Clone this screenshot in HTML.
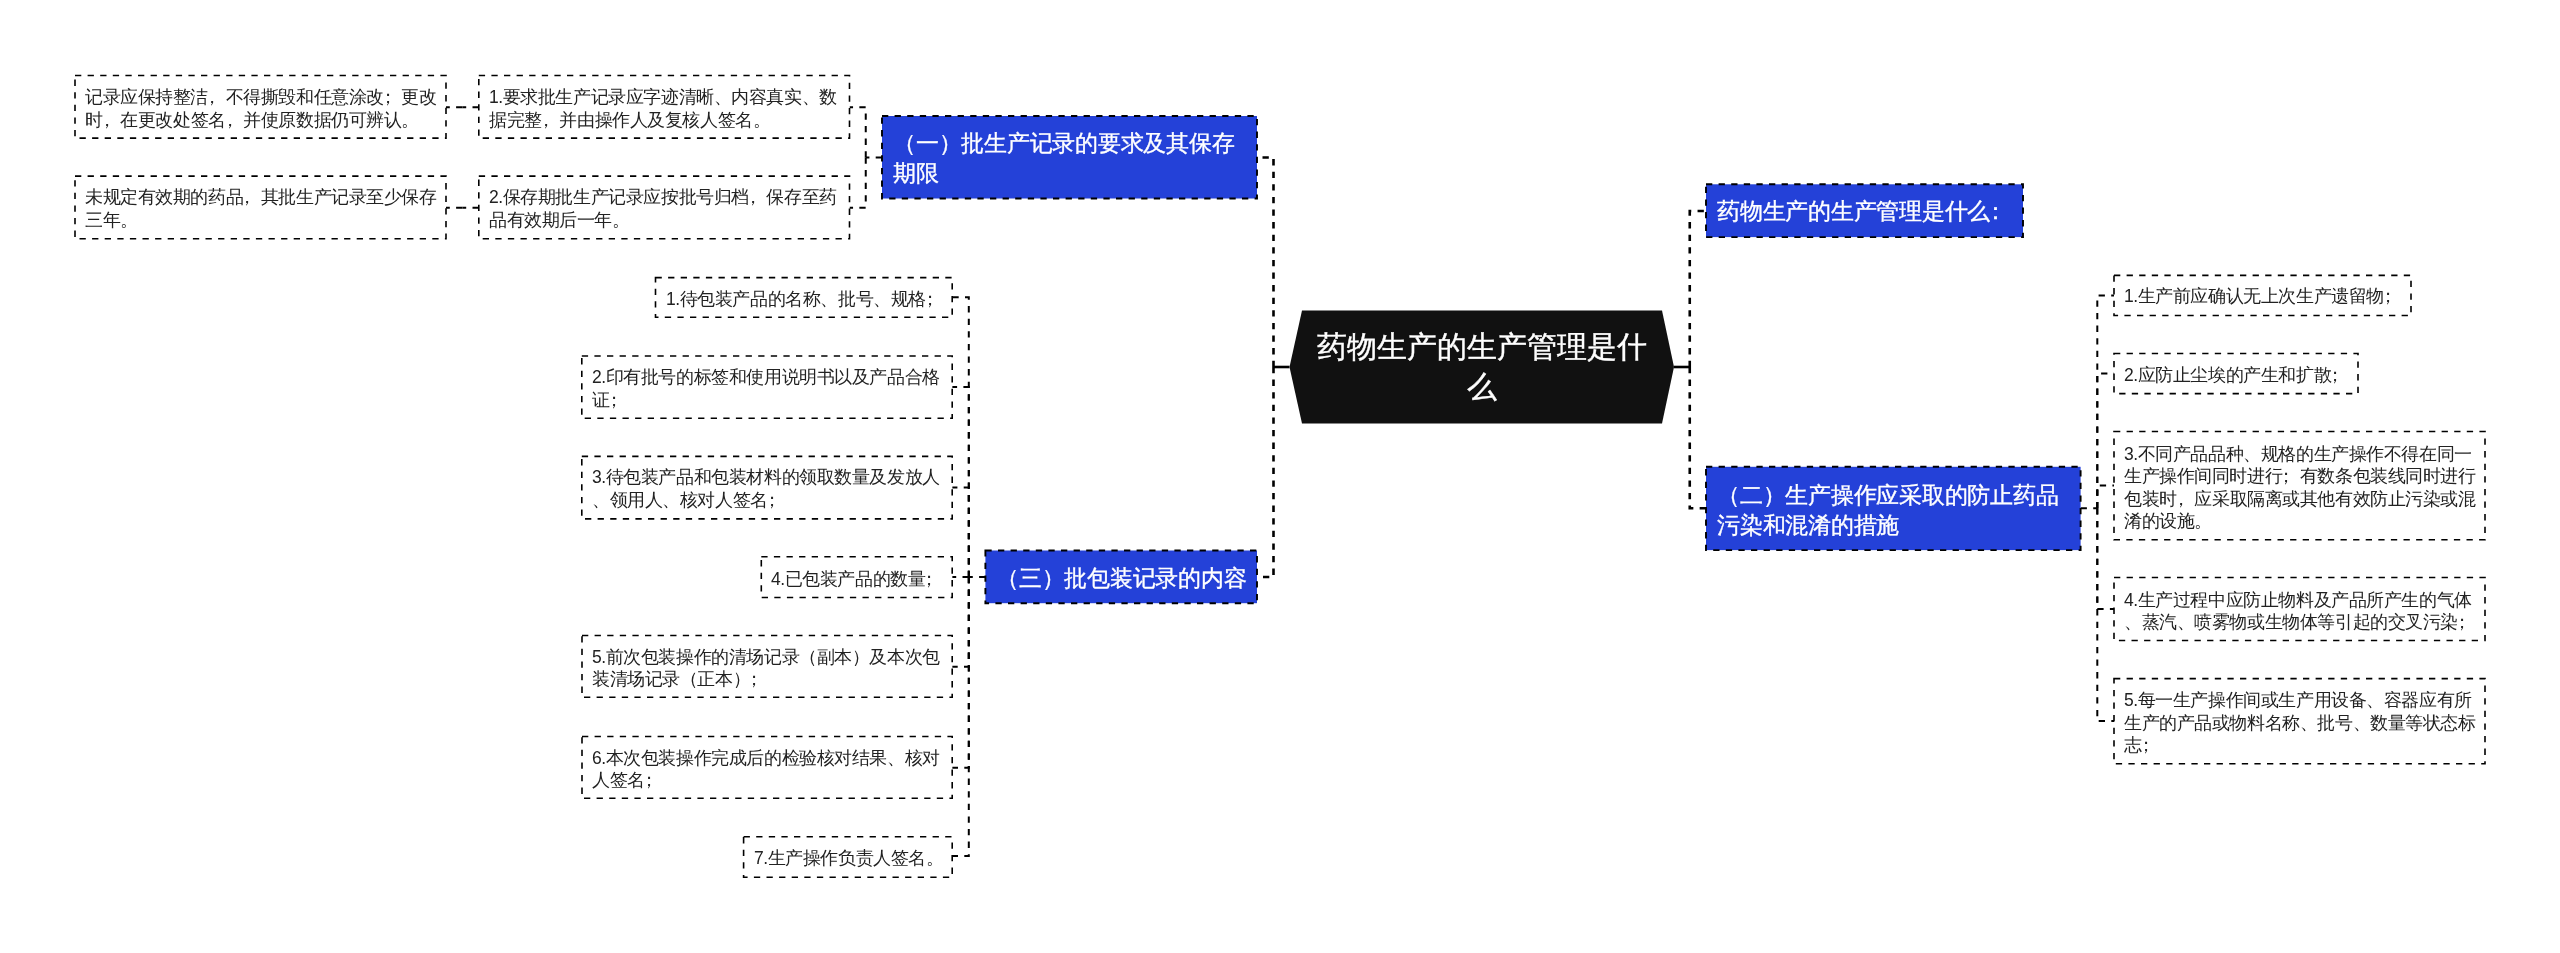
<!DOCTYPE html>
<html><head><meta charset="utf-8"><style>
html,body{margin:0;padding:0;background:#fff;width:2560px;height:953px;overflow:hidden}
body{position:relative;font-family:"Liberation Sans",sans-serif}
svg{position:absolute;left:0;top:0}
.lf,.bl,.rt{position:absolute;will-change:transform;display:flex;flex-direction:column;justify-content:center;box-sizing:border-box;white-space:nowrap}
.lf{font-size:17.5px;line-height:22.5px;letter-spacing:-0.42px;color:#222;padding-left:10px;padding-top:3px}
.bl{font-size:22.5px;line-height:30px;letter-spacing:-0.25px;color:#fff;padding-left:11px;padding-top:4px;-webkit-text-stroke:0.35px #fff}
.pc{position:relative;left:-5px}
.pc2{position:relative;left:-6px}
.rt{font-size:30px;line-height:40px;color:#fff;text-align:center;align-items:center;padding-bottom:2px;-webkit-text-stroke:0.4px #fff}
</style></head><body>
<svg width="2560" height="953" viewBox="0 0 2560 953">
<path d="M1289.5 367H1273.5" fill="none" stroke="#000" stroke-width="2.6"/>
<path d="M1674 367H1689.75" fill="none" stroke="#000" stroke-width="2.6"/>
<path d="M1273.5 367V157.5H1257" fill="none" stroke="#000" stroke-width="2.6" stroke-dasharray="6.3 6.3"/>
<path d="M1273.5 367V577H1257" fill="none" stroke="#000" stroke-width="2.6" stroke-dasharray="6.3 6.3"/>
<path d="M1689.75 367V211H1706" fill="none" stroke="#000" stroke-width="2.6" stroke-dasharray="6.3 6.3"/>
<path d="M1689.75 367V508.3H1706" fill="none" stroke="#000" stroke-width="2.6" stroke-dasharray="6.3 6.3"/>
<path d="M882 157.5H865.75" fill="none" stroke="#000" stroke-width="2.0" stroke-dasharray="6.3 6.3"/>
<path d="M865.75 157.5V107.2H849.5" fill="none" stroke="#000" stroke-width="2.0" stroke-dasharray="6.3 6.3"/>
<path d="M865.75 157.5V207.8H849.5" fill="none" stroke="#000" stroke-width="2.0" stroke-dasharray="6.3 6.3"/>
<path d="M478.8 107.2H462.4" fill="none" stroke="#000" stroke-width="2.0" stroke-dasharray="6.3 6.3"/>
<path d="M462.4 107.2H446" fill="none" stroke="#000" stroke-width="2.0" stroke-dasharray="6.3 6.3"/>
<path d="M478.8 207.8H462.4" fill="none" stroke="#000" stroke-width="2.0" stroke-dasharray="6.3 6.3"/>
<path d="M462.4 207.8H446" fill="none" stroke="#000" stroke-width="2.0" stroke-dasharray="6.3 6.3"/>
<path d="M985.4 577H968.8" fill="none" stroke="#000" stroke-width="2.0" stroke-dasharray="6.3 6.3"/>
<path d="M968.8 577V297.3H952.2" fill="none" stroke="#000" stroke-width="2.0" stroke-dasharray="6.3 6.3"/>
<path d="M968.8 577V387.1H952.2" fill="none" stroke="#000" stroke-width="2.0" stroke-dasharray="6.3 6.3"/>
<path d="M968.8 577V487.6H952.2" fill="none" stroke="#000" stroke-width="2.0" stroke-dasharray="6.3 6.3"/>
<path d="M968.8 577V577H952.2" fill="none" stroke="#000" stroke-width="2.0" stroke-dasharray="6.3 6.3"/>
<path d="M968.8 577V666.7H952.2" fill="none" stroke="#000" stroke-width="2.0" stroke-dasharray="6.3 6.3"/>
<path d="M968.8 577V767.8H952.2" fill="none" stroke="#000" stroke-width="2.0" stroke-dasharray="6.3 6.3"/>
<path d="M968.8 577V856H952.2" fill="none" stroke="#000" stroke-width="2.0" stroke-dasharray="6.3 6.3"/>
<path d="M2080.6 508.3H2097.3" fill="none" stroke="#000" stroke-width="2.0" stroke-dasharray="6.3 6.3"/>
<path d="M2097.3 508.3V295.4H2114" fill="none" stroke="#000" stroke-width="2.0" stroke-dasharray="6.3 6.3"/>
<path d="M2097.3 508.3V373.5H2114" fill="none" stroke="#000" stroke-width="2.0" stroke-dasharray="6.3 6.3"/>
<path d="M2097.3 508.3V485.6H2114" fill="none" stroke="#000" stroke-width="2.0" stroke-dasharray="6.3 6.3"/>
<path d="M2097.3 508.3V609.1H2114" fill="none" stroke="#000" stroke-width="2.0" stroke-dasharray="6.3 6.3"/>
<path d="M2097.3 508.3V721.1H2114" fill="none" stroke="#000" stroke-width="2.0" stroke-dasharray="6.3 6.3"/>
<rect x="75" y="75.5" width="371.00" height="62.60" fill="#fff" stroke="#000" stroke-width="1.6" stroke-dasharray="6.3 6.3"/>
<rect x="75" y="176.1" width="371.00" height="62.60" fill="#fff" stroke="#000" stroke-width="1.6" stroke-dasharray="6.3 6.3"/>
<rect x="478.8" y="75.5" width="370.70" height="62.60" fill="#fff" stroke="#000" stroke-width="1.6" stroke-dasharray="6.3 6.3"/>
<rect x="478.8" y="176.1" width="370.70" height="62.60" fill="#fff" stroke="#000" stroke-width="1.6" stroke-dasharray="6.3 6.3"/>
<rect x="655.5" y="277.6" width="296.70" height="39.60" fill="#fff" stroke="#000" stroke-width="1.6" stroke-dasharray="6.3 6.3"/>
<rect x="581.8" y="356" width="370.40" height="62.20" fill="#fff" stroke="#000" stroke-width="1.6" stroke-dasharray="6.3 6.3"/>
<rect x="581.8" y="456.4" width="370.40" height="62.50" fill="#fff" stroke="#000" stroke-width="1.6" stroke-dasharray="6.3 6.3"/>
<rect x="761.3" y="556.8" width="190.90" height="40.70" fill="#fff" stroke="#000" stroke-width="1.6" stroke-dasharray="6.3 6.3"/>
<rect x="582" y="635.5" width="370.20" height="61.70" fill="#fff" stroke="#000" stroke-width="1.6" stroke-dasharray="6.3 6.3"/>
<rect x="582" y="736.5" width="370.20" height="61.70" fill="#fff" stroke="#000" stroke-width="1.6" stroke-dasharray="6.3 6.3"/>
<rect x="743.6" y="836.8" width="208.60" height="40.40" fill="#fff" stroke="#000" stroke-width="1.6" stroke-dasharray="6.3 6.3"/>
<rect x="2114" y="275.4" width="297.00" height="40.10" fill="#fff" stroke="#000" stroke-width="1.6" stroke-dasharray="6.3 6.3"/>
<rect x="2114" y="353.5" width="244.00" height="40.10" fill="#fff" stroke="#000" stroke-width="1.6" stroke-dasharray="6.3 6.3"/>
<rect x="2114" y="431.5" width="371.00" height="108.20" fill="#fff" stroke="#000" stroke-width="1.6" stroke-dasharray="6.3 6.3"/>
<rect x="2114" y="577.5" width="371.00" height="63.00" fill="#fff" stroke="#000" stroke-width="1.6" stroke-dasharray="6.3 6.3"/>
<rect x="2114" y="678.6" width="371.00" height="85.10" fill="#fff" stroke="#000" stroke-width="1.6" stroke-dasharray="6.3 6.3"/>
<rect x="882" y="116" width="375.00" height="82.50" fill="#2441D8" stroke="#000" stroke-width="1.9" stroke-dasharray="6.3 6.3"/>
<rect x="985.4" y="550.5" width="271.60" height="52.70" fill="#2441D8" stroke="#000" stroke-width="1.9" stroke-dasharray="6.3 6.3"/>
<rect x="1706" y="184.3" width="317.00" height="52.80" fill="#2441D8" stroke="#000" stroke-width="1.9" stroke-dasharray="6.3 6.3"/>
<rect x="1706" y="466.8" width="374.60" height="83.30" fill="#2441D8" stroke="#000" stroke-width="1.9" stroke-dasharray="6.3 6.3"/>
<polygon points="1302,310.5 1662,310.5 1674,367 1662,423.5 1302,423.5 1289.5,367" fill="#111"/>
</svg>
<div class="lf" style="left:75px;top:75.5px;width:371.00px;height:62.60px"><div>记录应保持整洁<span class="pc">，</span>不得撕毁和任意涂改<span class="pc">；</span>更改<br>时<span class="pc">，</span>在更改处签名<span class="pc">，</span>并使原数据仍可辨认。</div></div>
<div class="lf" style="left:75px;top:176.1px;width:371.00px;height:62.60px"><div>未规定有效期的药品<span class="pc">，</span>其批生产记录至少保存<br>三年。</div></div>
<div class="lf" style="left:478.8px;top:75.5px;width:370.70px;height:62.60px"><div>1.要求批生产记录应字迹清晰、内容真实、数<br>据完整<span class="pc">，</span>并由操作人及复核人签名。</div></div>
<div class="lf" style="left:478.8px;top:176.1px;width:370.70px;height:62.60px"><div>2.保存期批生产记录应按批号归档<span class="pc">，</span>保存至药<br>品有效期后一年。</div></div>
<div class="lf" style="left:655.5px;top:277.6px;width:296.70px;height:39.60px"><div>1.待包装产品的名称、批号、规格<span class="pc">；</span></div></div>
<div class="lf" style="left:581.8px;top:356px;width:370.40px;height:62.20px"><div>2.印有批号的标签和使用说明书以及产品合格<br>证<span class="pc">；</span></div></div>
<div class="lf" style="left:581.8px;top:456.4px;width:370.40px;height:62.50px"><div>3.待包装产品和包装材料的领取数量及发放人<br>、领用人、核对人签名<span class="pc">；</span></div></div>
<div class="lf" style="left:761.3px;top:556.8px;width:190.90px;height:40.70px"><div>4.已包装产品的数量<span class="pc">；</span></div></div>
<div class="lf" style="left:582px;top:635.5px;width:370.20px;height:61.70px"><div>5.前次包装操作的清场记录（副本）及本次包<br>装清场记录（正本）<span class="pc">；</span></div></div>
<div class="lf" style="left:582px;top:736.5px;width:370.20px;height:61.70px"><div>6.本次包装操作完成后的检验核对结果、核对<br>人签名<span class="pc">；</span></div></div>
<div class="lf" style="left:743.6px;top:836.8px;width:208.60px;height:40.40px"><div>7.生产操作负责人签名。</div></div>
<div class="lf" style="left:2114px;top:275.4px;width:297.00px;height:40.10px"><div>1.生产前应确认无上次生产遗留物<span class="pc">；</span></div></div>
<div class="lf" style="left:2114px;top:353.5px;width:244.00px;height:40.10px"><div>2.应防止尘埃的产生和扩散<span class="pc">；</span></div></div>
<div class="lf" style="left:2114px;top:431.5px;width:371.00px;height:108.20px"><div>3.不同产品品种、规格的生产操作不得在同一<br>生产操作间同时进行<span class="pc">；</span>有数条包装线同时进行<br>包装时<span class="pc">，</span>应采取隔离或其他有效防止污染或混<br>淆的设施。</div></div>
<div class="lf" style="left:2114px;top:577.5px;width:371.00px;height:63.00px"><div>4.生产过程中应防止物料及产品所产生的气体<br>、蒸汽、喷雾物或生物体等引起的交叉污染<span class="pc">；</span></div></div>
<div class="lf" style="left:2114px;top:678.6px;width:371.00px;height:85.10px"><div>5.每一生产操作间或生产用设备、容器应有所<br>生产的产品或物料名称、批号、数量等状态标<br>志<span class="pc">；</span></div></div>
<div class="bl" style="left:882px;top:116px;width:375.00px;height:82.50px"><div>（一）批生产记录的要求及其保存<br>期限</div></div>
<div class="bl" style="left:985.4px;top:550.5px;width:271.60px;height:52.70px"><div>（三）批包装记录的内容</div></div>
<div class="bl" style="left:1706px;top:184.3px;width:317.00px;height:52.80px"><div>药物生产的生产管理是什么<span class="pc2">：</span></div></div>
<div class="bl" style="left:1706px;top:466.8px;width:374.60px;height:83.30px"><div>（二）生产操作应采取的防止药品<br>污染和混淆的措施</div></div>
<div class="rt" style="left:1289.5px;top:310.5px;width:384.50px;height:113.00px"><div>药物生产的生产管理是什<br>么</div></div>
</body></html>
